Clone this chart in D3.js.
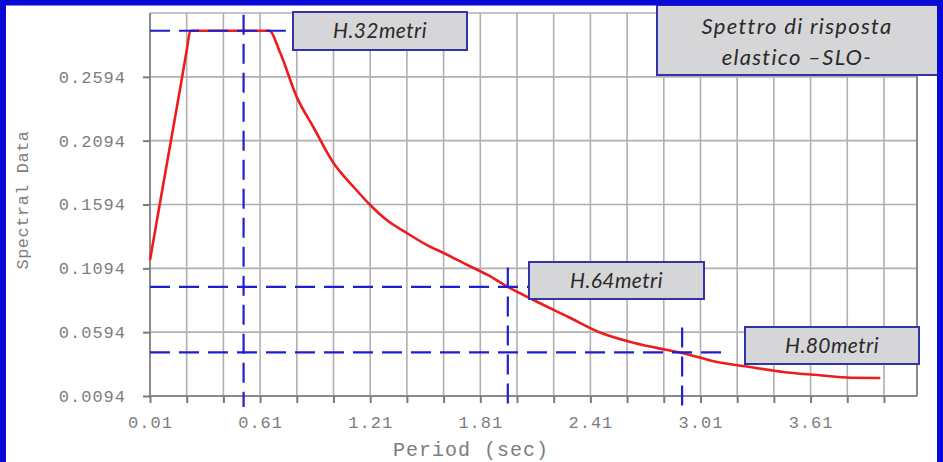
<!DOCTYPE html>
<html lang="it">
<head>
  <meta charset="UTF-8">
  <title>Spettro di risposta elastico SLO</title>
  <style>
    html, body {
      margin: 0;
      padding: 0;
      background: #fff;
      overflow: hidden;
    }
    svg {
      display: block;
    }
    .tick-label {
      font-family: "Liberation Mono", "DejaVu Sans Mono", monospace;
      fill: #7d7d7d;
    }
    .note {
      font-family: Lato, "Open Sans", sans-serif;
      font-style: italic;
      fill: #2a2a2a;
    }
  </style>
</head>
<body>
  <script src="https://d3js.org/d3.v7.min.js"></script>
  <script>
    'use strict';

    // spectrum (period in sec, spectral acceleration)
    const periods = [0.01, 0.06, 0.12, 0.18, 0.21, 0.23, 0.66, 0.72, 0.81, 0.90,
      1.01, 1.12, 1.21, 1.30, 1.41, 1.52, 1.61, 1.74, 1.85, 1.96,
      2.10, 2.29, 2.47, 2.65, 2.83, 2.91, 3.10, 3.28, 3.46, 3.65,
      3.83, 3.99];
    const spectral = [0.1159, 0.1570, 0.2060, 0.2550, 0.2800, 0.2955, 0.2955, 0.2780, 0.2435, 0.2201,
      0.1919, 0.1731, 0.1590, 0.1472, 0.1370, 0.1276, 0.1214, 0.1120, 0.1042, 0.0948,
      0.0846, 0.0713, 0.0587, 0.0509, 0.0454, 0.0431, 0.0360, 0.0321, 0.0282, 0.0258,
      0.0237, 0.0235];

    // axis ticks
    const xTickLabels = [0.01, 0.61, 1.21, 1.81, 2.41, 3.01, 3.61];
    const xGridTicks = [0.01, 0.21, 0.41, 0.61, 0.81, 1.01, 1.21, 1.41, 1.61, 1.81, 2.01,
      2.21, 2.41, 2.61, 2.81, 3.01, 3.21, 3.41, 3.61, 3.81, 4.01];
    const yTickLabels = [0.0094, 0.0594, 0.1094, 0.1594, 0.2094, 0.2594];

    // building heights: reading period, value and how far the guides reach
    const markerLabels = ['H.32metri', 'H.64metri', 'H.80metri'];
    const markerPeriods = [0.52, 1.96, 2.91];
    const markerValues = [0.2955, 0.0948, 0.0435];
    const guideEndPeriods = [0.75, 2.08, 3.13];
    const guideTopValues = [0.3080, 0.1100, 0.0630];

    const titleLines = ['Spettro di risposta', 'elastico \u2013SLO-'];

    const width = 943;
    const height = 462;
    const plot = { left: 150, right: 917, top: 13, bottom: 396 };

    // label boxes (pixels)
    const boxes = [
      { x: 293, y: 12, w: 174, h: 38 },
      { x: 529, y: 262, w: 175, h: 37 },
      { x: 745, y: 327, w: 174, h: 37 }
    ];

    const x = d3.scaleLinear().domain([0.01, 4.19]).range([plot.left, plot.right]);
    const y = d3.scaleLinear().domain([0.0094, 0.3094]).range([plot.bottom, plot.top]);

    const svg = d3.select('body')
      .append('svg')
      .attr('width', width)
      .attr('height', height);

    svg.append('rect')
      .attr('width', width)
      .attr('height', height)
      .attr('fill', '#fff');

    // grid
    svg.append('g')
      .selectAll('line')
      .data(xGridTicks)
      .enter().append('line')
      .attr('x1', d => x(d)).attr('x2', d => x(d))
      .attr('y1', plot.top).attr('y2', plot.bottom)
      .attr('stroke', '#b0b0b0')
      .attr('stroke-width', 1.6);

    svg.append('g')
      .selectAll('line')
      .data(yTickLabels.concat([0.3094]))
      .enter().append('line')
      .attr('x1', plot.left).attr('x2', plot.right)
      .attr('y1', d => y(d)).attr('y2', d => y(d))
      .attr('stroke', '#b0b0b0')
      .attr('stroke-width', 1.6);

    // right border of plot
    svg.append('line')
      .attr('x1', plot.right).attr('x2', plot.right)
      .attr('y1', plot.top).attr('y2', plot.bottom)
      .attr('stroke', '#8a8a8a')
      .attr('stroke-width', 2);

    // axes
    const xAxis = d3.axisBottom(x)
      .tickValues(xGridTicks)
      .tickSize(7)
      .tickSizeOuter(0)
      .tickFormat(d => xTickLabels.some(v => Math.abs(v - d) < 1e-6) ? d3.format('.2f')(d) : '');

    const gx = svg.append('g')
      .attr('transform', 'translate(0,' + plot.bottom + ')')
      .call(xAxis);
    gx.select('.domain').attr('stroke', '#8a8a8a').attr('stroke-width', 2)
      .attr('d', 'M' + plot.left + ',0H' + plot.right);
    gx.selectAll('.tick line').attr('stroke', '#7a7a7a').attr('stroke-width', 2);
    gx.selectAll('.tick text')
      .attr('class', 'tick-label')
      .attr('font-size', 17)
      .attr('letter-spacing', 1)
      .attr('dy', null)
      .attr('y', 32);

    const yAxis = d3.axisLeft(y)
      .tickValues(yTickLabels)
      .tickSize(7)
      .tickSizeOuter(0)
      .tickFormat(d3.format('.4f'));

    const gy = svg.append('g')
      .attr('transform', 'translate(' + plot.left + ',0)')
      .call(yAxis);
    gy.select('.domain').attr('stroke', '#8a8a8a').attr('stroke-width', 2)
      .attr('d', 'M0,' + plot.top + 'V' + plot.bottom);
    gy.selectAll('.tick line').attr('stroke', '#7a7a7a').attr('stroke-width', 2);
    gy.selectAll('.tick text')
      .attr('class', 'tick-label')
      .attr('font-size', 17)
      .attr('letter-spacing', 1)
      .attr('x', -24);

    // axis titles
    svg.append('text')
      .attr('class', 'tick-label')
      .attr('x', 471)
      .attr('y', 456)
      .attr('text-anchor', 'middle')
      .attr('font-size', 20)
      .attr('letter-spacing', 1)
      .text('Period (sec)');

    svg.append('text')
      .attr('class', 'tick-label')
      .attr('transform', 'translate(28,200) rotate(-90)')
      .attr('text-anchor', 'middle')
      .attr('font-size', 17)
      .attr('letter-spacing', 0.5)
      .text('Spectral Data');

    // spectrum curve
    const line = d3.line()
      .x(d => x(d[0]))
      .y(d => y(d[1]))
      .curve(d3.curveMonotoneX);

    svg.append('path')
      .datum(d3.zip(periods, spectral))
      .attr('d', line)
      .attr('fill', 'none')
      .attr('stroke', '#ee1c1c')
      .attr('stroke-width', 2.6)
      .attr('stroke-linejoin', 'round');

    // dashed reading guides
    const guides = svg.append('g')
      .attr('stroke', '#1f1fcf')
      .attr('stroke-width', 2.2)
      .attr('stroke-dasharray', '20,9')
      .attr('fill', 'none');

    markerPeriods.forEach((p, i) => {
      guides.append('line')
        .attr('x1', x(0.01)).attr('x2', x(guideEndPeriods[i]))
        .attr('y1', y(markerValues[i])).attr('y2', y(markerValues[i]));
      guides.append('line')
        .attr('x1', x(p)).attr('x2', x(p))
        .attr('y1', y(guideTopValues[i])).attr('y2', y(0.0094) + 11);
    });

    // label boxes
    markerLabels.forEach((label, i) => {
      const b = boxes[i];
      svg.append('rect')
        .attr('x', b.x).attr('y', b.y)
        .attr('width', b.w).attr('height', b.h)
        .attr('fill', '#d6d6d9')
        .attr('stroke', '#3434a6')
        .attr('stroke-width', 2);
      svg.append('text')
        .attr('class', 'note')
        .attr('x', b.x + b.w / 2)
        .attr('y', b.y + b.h / 2 + 7)
        .attr('text-anchor', 'middle')
        .attr('font-size', 21)
        .attr('letter-spacing', 0.4)
        .text(label);
    });

    // title box
    svg.append('rect')
      .attr('x', 657).attr('y', 5)
      .attr('width', 281).attr('height', 70)
      .attr('fill', '#d6d6d9')
      .attr('stroke', '#3434a6')
      .attr('stroke-width', 2);

    svg.append('g')
      .selectAll('text')
      .data(titleLines)
      .enter().append('text')
      .attr('class', 'note')
      .attr('x', 797)
      .attr('y', (d, i) => 34 + i * 31)
      .attr('text-anchor', 'middle')
      .attr('font-size', 22)
      .attr('letter-spacing', 1.3)
      .text(d => d);

    // outer blue frame (left, top, right)
    svg.append('path')
      .attr('d', 'M3,' + height + 'V2.5H940V' + height)
      .attr('fill', 'none')
      .attr('stroke', '#0a0ad8')
      .attr('stroke-width', 6);
  </script>
</body>
</html>
